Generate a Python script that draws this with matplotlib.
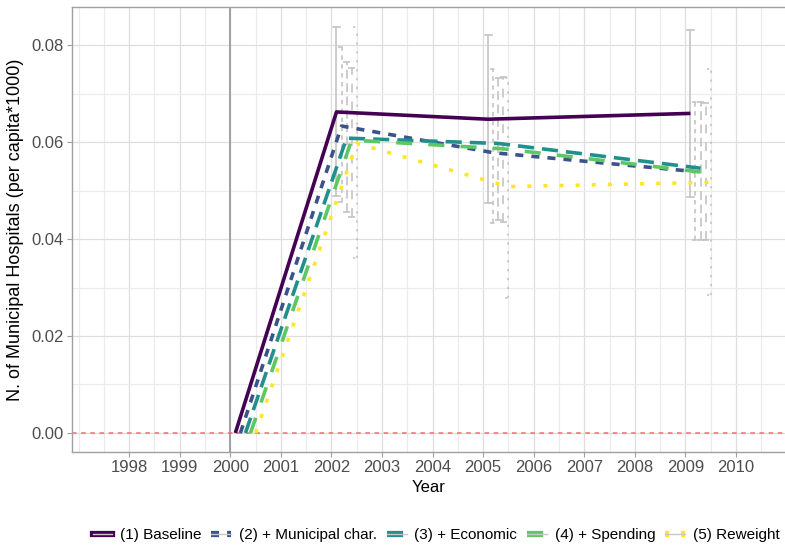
import matplotlib
matplotlib.use("Agg")
import matplotlib.pyplot as plt
from matplotlib.lines import Line2D
from matplotlib.legend_handler import HandlerTuple
from matplotlib.ticker import MultipleLocator

plt.rcParams['font.family'] = ['Liberation Sans', 'DejaVu Sans']

labels = ["(1) Baseline", "(2) + Municipal char.", "(3) + Economic",
          "(4) + Spending", "(5) Reweight"]
colors = ["#440154", "#3B528B", "#21908C", "#5DC863", "#FDE725"]
years = [2000, 2002, 2005, 2009]
est = [
    [0, 0.0662, 0.0647, 0.0659],
    [0, 0.0633, 0.0578, 0.0539],
    [0, 0.0608, 0.0597, 0.0546],
    [0, 0.0604, 0.0586, 0.0537],
    [0, 0.0597, 0.0508, 0.0517],
]
ci_years = [2002, 2005, 2009]
ci_lo = [
    [0.0489, 0.0474, 0.0487],
    [0.0476, 0.0433, 0.0398],
    [0.0456, 0.0439, 0.0398],
    [0.0445, 0.0435, 0.0398],
    [0.0361, 0.0278, 0.0284],
]
ci_hi = [
    [0.0837, 0.0820, 0.0830],
    [0.0796, 0.0750, 0.0682],
    [0.0765, 0.0731, 0.0682],
    [0.0753, 0.0735, 0.0680],
    [0.0837, 0.0731, 0.0750],
]
xticks = list(range(1998, 2011))

lw = 2.6
elw = 1.2
patterns = [None, (2, 2), (4, 2), (4, 4), (1, 3)]
unit_pt = 2.9

def ls(i, w):
    p = patterns[i]
    if p is None:
        return '-'
    s = unit_pt / w
    return (0, tuple(v * s for v in p))

def els(i, w):
    p = patterns[i]
    if p is None:
        return '-'
    s = 1.6 / w
    return (0, tuple(v * s for v in p))

fig = plt.figure(figsize=(7.85, 5.47), dpi=100)
ax = fig.add_axes([72/785, 95/547, 1 - 72/785, (452-7)/547])

ax.set_xlim(1996.87, 2010.97)
ax.set_ylim(-0.00392, 0.08784)
ax.set_xticks(xticks)
ax.set_xticklabels([str(y) for y in xticks])
ax.xaxis.set_minor_locator(MultipleLocator(0.5))
ax.set_yticks([0, 0.02, 0.04, 0.06, 0.08])
ax.set_yticklabels(["0.00", "0.02", "0.04", "0.06", "0.08"])
ax.yaxis.set_minor_locator(MultipleLocator(0.01))
ax.grid(True, which='major', color='#DEDEDE', lw=0.9)
ax.grid(True, which='minor', color='#EBEBEB', lw=0.8)
ax.set_axisbelow(True)
ax.tick_params(which='minor', length=0)
ax.tick_params(which='major', length=3.5, color='#A0A0A0', labelcolor='#4D4D4D',
               labelsize=12, width=0.8, pad=2.5)
ax.spines['right'].set_visible(False)
for s in ['left', 'bottom', 'top']:
    ax.spines[s].set_color('#A0A0A0')
    ax.spines[s].set_linewidth(1.0)

ax.axvline(2000, color='#9A9A9A', lw=1.3, zorder=1)
ax.axhline(0, color='#F07070', lw=1.1, ls=(0, (3, 3)), zorder=1)

cap = 0.07
handles = []
for i in range(5):
    off = 0.1 * (i + 1)
    for j, yr in enumerate(ci_years):
        x = yr + off
        st = els(i, elw)
        ax.plot([x, x], [ci_lo[i][j], ci_hi[i][j]], color='#C4C4C4', lw=elw, ls=st, zorder=2)
        ax.plot([x - cap, x + cap], [ci_lo[i][j]] * 2, color='#C4C4C4', lw=elw, ls=st, zorder=2)
        ax.plot([x - cap, x + cap], [ci_hi[i][j]] * 2, color='#C4C4C4', lw=elw, ls=st, zorder=2)
    xs = [y + off for y in years]
    ax.plot(xs, est[i], color=colors[i], lw=lw, ls=ls(i, lw), zorder=3,
            solid_capstyle='butt', dash_capstyle='butt')
    h1 = Line2D([], [], color=colors[i], lw=4.5, ls=ls(i, 4.5))
    h2 = Line2D([], [], color='#C8C8C8', lw=1.0, ls='-')
    handles.append((h1, h2))

ax.set_xlabel("Year", fontsize=12, labelpad=3)
ax.set_ylabel("N. of Municipal Hospitals (per capita*1000)", fontsize=13, labelpad=5)

fig.legend(handles, labels, handler_map={tuple: HandlerTuple(ndivide=1, pad=0)},
           loc='center', bbox_to_anchor=(436/785, 12/547), ncol=5, frameon=False,
           fontsize=11, handlelength=1.3, columnspacing=0.65, handletextpad=0.5)

fig.savefig("out.png", dpi=100)
